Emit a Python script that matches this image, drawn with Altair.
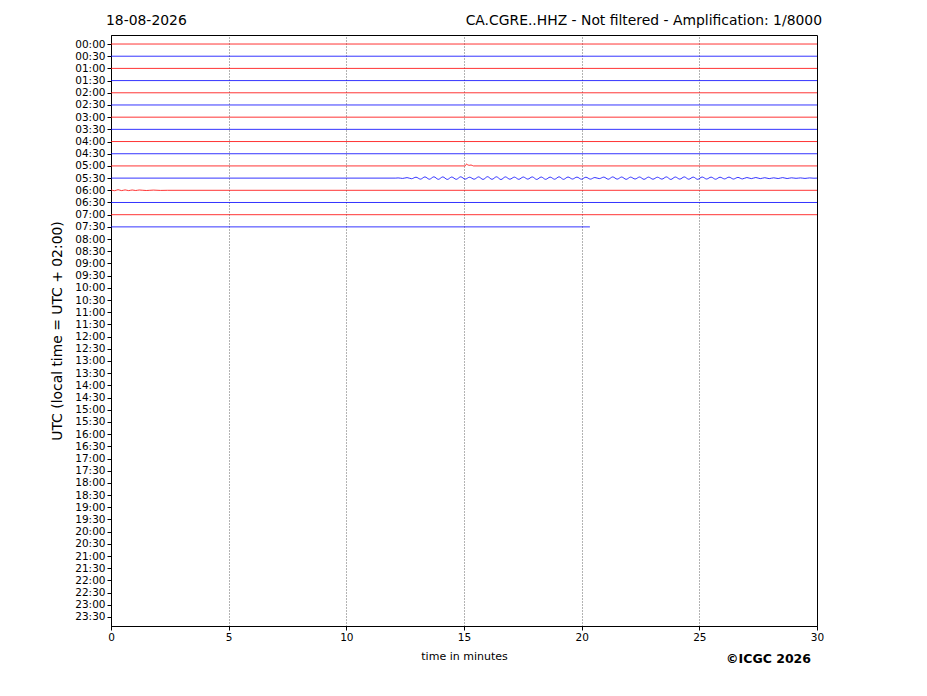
import pandas as pd
import altair as alt

# row labels, 00:00 .. 23:30 (one trace row per half hour)
row_labels = [f"{h:02d}:{m:02d}" for h in range(24) for m in (0, 30)]

# recorded rows (00:00 .. 07:30) and the minute each one ends at
trace_rows = list(range(16))
trace_end = [30, 30, 30, 30, 30, 30, 30, 30, 30, 30, 30, 30, 30, 30, 30, 20.35]
trace_colors = ["#ff0000", "#0000ff"]

# small spike on the 05:00 row
blip_t = [15.05, 15.1, 15.15, 15.22, 15.3, 15.4]
blip_v = [0, 1.8, 1.2, 0.6, 0.9, 0]

# little wiggles at the start of the 06:00 row
wiggle_t = [0.0, 0.15, 0.3, 0.45, 0.6, 0.75, 0.9, 1.05, 1.2, 1.5, 1.8, 2.1, 2.4]
wiggle_v = [0.5, -0.4, 0.6, -0.3, 0.4, -0.3, 0.3, -0.2, 0.3, -0.2, 0.2, -0.1, 0]

# 05:30 row: teleseismic wave train, half-period samples (pixels, up = +)
wave_start = 12.2
wave_step = 0.19
wave_v = [
    0.2, -0.3, 0.5, -0.6, 0.9, -1.0, 1.2, -1.1, 1.3, -1.2,
    1.2, -1.3, 1.1, -1.2, 1.3, -1.0, 0.9, -1.1, 1.2, -1.3,
    1.4, -1.2, 1.3, -1.4, 1.2, -1.1, 1.0, -1.2, 1.1, -1.0,
    1.2, -1.3, 1.1, -1.2, 1.0, -1.1, 1.3, -1.2, 1.1, -0.9,
    1.0, -1.1, 0.9, -1.0, 0.6, -0.5, 1.0, -1.1, 1.2, -1.0,
    1.1, -1.2, 1.0, -0.9, 1.1, -1.2, 1.0, -1.1, 0.9, -1.0,
    1.2, -1.3, 1.1, -1.0, 1.2, -1.1, 1.0, -1.2, 1.1, -0.9,
    1.0, -1.1, 0.9, -0.8, 1.0, -0.9, 0.7, -0.8, 0.6, -0.5,
    0.6, -0.5, 0.4, -0.5, 0.3, -0.4, 0.5, -0.4, 0.3, -0.2,
    0.2, -0.3, 0.2, -0.1,
]

px_per_row = 12.19

recs = []
for r, end in zip(trace_rows, trace_end):
    col = trace_colors[r % 2]
    if r == 10:
        pts = [(0, 0)] + list(zip(blip_t, blip_v)) + [(end, 0)]
    elif r == 11:
        pts = [(0, 0), (wave_start - 0.1, 0)]
        pts += [(wave_start + i * wave_step, v) for i, v in enumerate(wave_v)]
        pts += [(end, 0)]
    elif r == 12:
        pts = list(zip(wiggle_t, wiggle_v)) + [(end, 0)]
    else:
        pts = [(0, 0), (end, 0)]
    for i, (t, v) in enumerate(pts):
        recs.append({"row": r, "order": i, "t": t, "y": r - v / px_per_row, "col": col})
df = pd.DataFrame(recs)

label_expr = "[" + ",".join(f"'{s}'" for s in row_labels) + "][datum.value]"

lines = alt.Chart(df).mark_line(strokeWidth=0.8, interpolate="monotone").encode(
    x=alt.X("t:Q", scale=alt.Scale(domain=[0, 30], nice=False, zero=False),
            axis=alt.Axis(values=[0, 5, 10, 15, 20, 25, 30], title="time in minutes",
                          grid=True, gridDash=[1, 2], gridColor="black", gridWidth=0.6,
                          gridOpacity=1, titlePadding=8, titleFontSize=11, labelFlush=False)),
    y=alt.Y("y:Q", scale=alt.Scale(domain=[-0.74, 47.74], reverse=True, nice=False, zero=False),
            axis=alt.Axis(values=list(range(48)), labelExpr=label_expr,
                          title="UTC (local time = UTC + 02:00)", grid=False,
                          titleFontSize=13.9, titleX=-47, labelFlush=False)),
    detail="row:N",
    order="order:Q",
    color=alt.Color("col:N", scale=None),
)

texts = pd.DataFrame({"txt": ["18-08-2026", "CA.CGRE..HHZ - Not filtered - Amplification: 1/8000"]})
date_txt = alt.Chart(texts.iloc[[0]]).mark_text(align="left", baseline="alphabetic", fontSize=13.9).encode(
    text="txt:N", x=alt.value(-5), y=alt.value(-10))
head_txt = alt.Chart(texts.iloc[[1]]).mark_text(align="right", baseline="alphabetic", fontSize=13.9).encode(
    text="txt:N", x=alt.value(711), y=alt.value(-10))
copy_txt = alt.Chart(pd.DataFrame({"txt": ["©ICGC 2026"]})).mark_text(
    align="right", baseline="alphabetic", fontSize=12.5, fontWeight="bold").encode(
    text="txt:N", x=alt.value(700), y=alt.value(628))

chart = alt.layer(lines, date_txt, head_txt, copy_txt).properties(
    width=706, height=591,
    autosize=alt.AutoSizeParams(type="none"),
    padding={"left": 103, "top": 27, "right": 102, "bottom": 62},
).configure(font="DejaVu Sans").configure_axis(
    labelFontSize=10.5, labelColor="black", titleColor="black", titleFontWeight="normal",
    tickColor="black", domainColor="black", tickSize=4, labelPadding=2,
).configure_view(stroke="black", strokeWidth=1)

chart.save("out.html", embed_options={"renderer": "svg", "actions": False})
